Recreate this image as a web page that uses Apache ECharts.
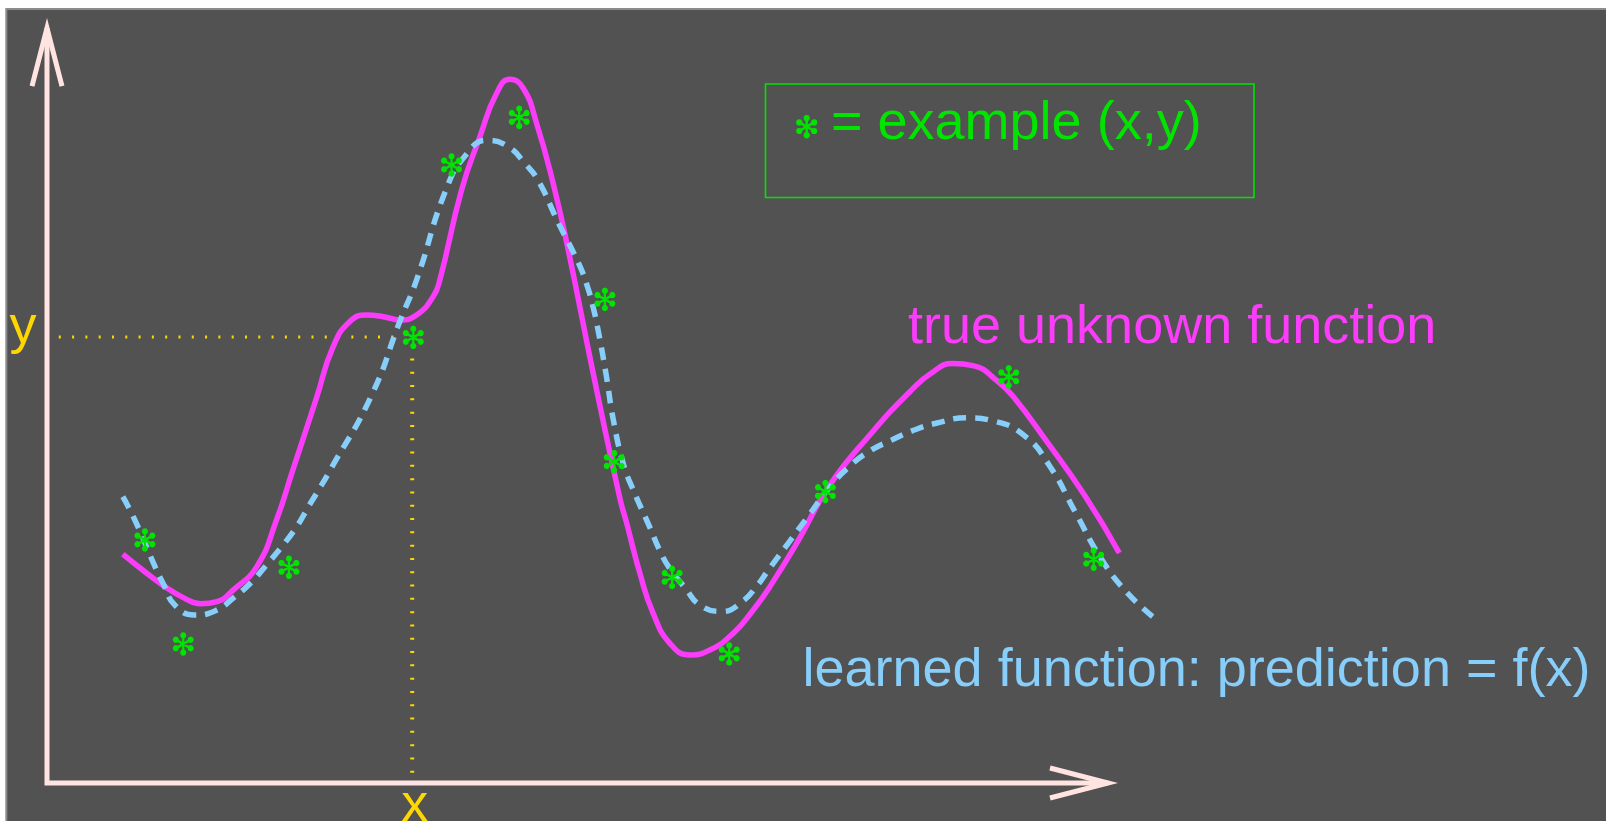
<!DOCTYPE html>
<html>
<head>
<meta charset="utf-8">
<script src="https://cdn.jsdelivr.net/npm/echarts@6/dist/echarts.min.js"></script>
<style>
  html, body { margin: 0; padding: 0; background: #fff; }
  #chart { width: 1606px; height: 821px; }
</style>
</head>
<body>
<div id="chart"></div>
<script>
// Underlying (unknown) function, sampled along x
const trueFunction = [
  [0.708, 2.992], [0.899, 2.778], [1.090, 2.577], [1.281, 2.417], [1.434, 2.343],
  [1.587, 2.370], [1.740, 2.524], [1.960, 2.832], [2.142, 3.434], [2.295, 4.090],
  [2.515, 5.027], [2.672, 5.704], [2.828, 6.032], [2.984, 6.117], [3.140, 6.096],
  [3.294, 6.053], [3.450, 6.117], [3.605, 6.357], [3.668, 6.575], [3.871, 7.752],
  [4.042, 8.448], [4.198, 9.016], [4.322, 9.199], [4.447, 9.082], [4.571, 8.624],
  [4.726, 7.839], [4.867, 6.967], [5.100, 5.355], [5.349, 3.722], [5.412, 3.400],
  [5.536, 2.741], [5.660, 2.218], [5.816, 1.826], [6.003, 1.674], [6.189, 1.739],
  [6.407, 1.956], [6.594, 2.261], [6.750, 2.567], [7.019, 3.180], [7.306, 3.889],
  [7.689, 4.559], [8.071, 5.135], [8.262, 5.362], [8.454, 5.483], [8.645, 5.456],
  [8.884, 5.242], [9.027, 5.041], [9.314, 4.505], [9.697, 3.742], [10.012, 3.006]
];

// Fitted model f(x)
const learnedFunction = [
  [0.708, 3.742], [0.822, 3.434], [0.995, 2.872], [1.090, 2.591], [1.195, 2.323],
  [1.377, 2.196], [1.578, 2.256], [1.750, 2.430], [1.913, 2.631], [2.046, 2.845],
  [2.190, 3.086], [2.333, 3.354], [2.439, 3.608], [2.544, 3.849], [2.639, 4.077],
  [3.031, 5.068], [3.294, 6.032], [3.452, 6.580], [3.730, 7.772], [3.921, 8.227],
  [4.103, 8.401], [4.303, 8.321], [4.466, 8.093], [4.590, 7.866], [4.772, 7.330],
  [4.963, 6.795], [5.040, 6.514], [5.097, 6.232], [5.145, 5.924], [5.221, 5.335],
  [5.288, 4.746], [5.384, 4.157], [5.460, 3.876], [5.633, 3.327], [5.719, 3.046],
  [5.814, 2.805], [5.958, 2.551], [6.101, 2.323], [6.302, 2.243], [6.484, 2.363],
  [6.637, 2.591], [6.732, 2.778], [6.924, 3.140], [7.115, 3.501], [7.306, 3.863],
  [7.497, 4.144], [7.689, 4.345], [7.880, 4.478], [8.071, 4.599], [8.310, 4.706],
  [8.597, 4.773], [8.836, 4.733], [9.123, 4.545], [9.362, 4.144], [9.601, 3.541],
  [9.840, 2.939], [10.079, 2.497], [10.347, 2.149]
];

// Training examples (x, y)
const examples = [
  [0.914, 3.177], [1.272, 1.817], [2.259, 2.820], [3.777, 8.079], [3.420, 5.825],
  [4.409, 8.701], [5.209, 6.322], [5.296, 4.200], [5.837, 2.688], [6.370, 1.687],
  [7.268, 3.809], [8.980, 5.309], [9.773, 2.925]
];

// The example whose coordinates are traced back to the axes
const sample = [3.41, 5.83];

// Axis extents and arrowheads (data units)
const axisEnds = [9.907, 9.869];
const xArrowHead = [[9.365, 0.196], [9.907, 0], [9.365, -0.196]];
const yArrowHead = [[-0.140, 9.111], [0, 9.869], [0.140, 9.111]];

// Text
const axisNames = ['x', 'y'];
const curveNames = ['true unknown function', 'learned function: prediction = f(x)'];
const legendText = '= example (x,y)';

const C = {
  bg: '#525252', frame: '#8c8c8c', axis: '#ffe4e1', guide: '#ffd700',
  truth: '#fb3cfb', learned: '#87cefa', example: '#00e400'
};
const FONT = '54px "Liberation Sans", Arial, Helvetica, sans-serif';

// Plot scale: origin position and pixels per unit on the 1606x821 canvas
const W = 1606, H = 821;
const ORIGIN = [47, 783];
const UNIT = [107.1, 76.5];

// Six-armed asterisk with round tips (arms as strokes, tips as filled dots)
function asteriskPath(arm, dot) {
  let d = '';
  for (const deg of [90, 30, 150]) {
    const a = deg * Math.PI / 180, c = Math.cos(a) * arm, s = Math.sin(a) * arm;
    d += 'M' + (-c).toFixed(2) + ' ' + (-s).toFixed(2) + 'L' + c.toFixed(2) + ' ' + s.toFixed(2);
  }
  for (let k = 0; k < 6; k++) {
    const a = (30 + 60 * k) * Math.PI / 180;
    const cx = Math.cos(a) * arm, cy = Math.sin(a) * arm;
    for (let j = 0; j < 12; j++) {
      const b = j * Math.PI / 6;
      d += (j ? 'L' : 'M') + (cx + Math.cos(b) * dot).toFixed(2) + ' ' + (cy + Math.sin(b) * dot).toFixed(2);
    }
    d += 'Z';
  }
  return 'path://' + d;
}
const ARM = 8.6, DOT = 1.9, STROKE = 2.4;
const starSize = [2 * (ARM * Math.cos(Math.PI / 6) + DOT), 2 * (ARM + DOT)];

// Legend asterisk drawn with graphic primitives
function legendStar(cx, cy) {
  const children = [];
  for (const deg of [90, 30, 150]) {
    const a = deg * Math.PI / 180, c = Math.cos(a) * ARM, s = Math.sin(a) * ARM;
    children.push({ type: 'line', shape: { x1: -c, y1: -s, x2: c, y2: s },
      style: { stroke: C.example, lineWidth: STROKE } });
  }
  for (let k = 0; k < 6; k++) {
    const a = (30 + 60 * k) * Math.PI / 180;
    children.push({ type: 'circle', shape: { cx: Math.cos(a) * ARM, cy: Math.sin(a) * ARM, r: DOT + STROKE / 2 },
      style: { fill: C.example } });
  }
  return { type: 'group', x: cx, y: cy, z: 50, children };
}

function label(text, x, y, color, align) {
  return {
    type: 'text', x, y, z: 50,
    style: { text, font: FONT, fill: color, align: align || 'left', verticalAlign: 'middle',
             textAlign: align || 'left', textVerticalAlign: 'middle' }
  };
}

const chart = echarts.init(document.getElementById('chart'), null, { renderer: 'canvas' });

chart.setOption({
  animation: false,
  backgroundColor: '#ffffff',
  grid: { left: 0, top: 0, right: 0, bottom: 0, show: false },
  xAxis: { type: 'value', show: false,
           min: -ORIGIN[0] / UNIT[0], max: (W - ORIGIN[0]) / UNIT[0] },
  yAxis: { type: 'value', show: false,
           min: -(H - ORIGIN[1]) / UNIT[1], max: ORIGIN[1] / UNIT[1] },
  graphic: [
    { type: 'rect', z: -10, silent: true,
      shape: { x: 6.3, y: 9, width: 1620, height: 830 },
      style: { fill: C.bg, stroke: C.frame, lineWidth: 2 } },
    label(axisNames[1], 9.5, 328.5, C.guide, 'left'),
    label(axisNames[0], 414.7, 806, C.guide, 'center'),
    label(curveNames[0], 908, 328.5, C.truth, 'left'),
    label(curveNames[1], 802.5, 671.5, C.learned, 'left'),
    { type: 'rect', z: 40, shape: { x: 765.5, y: 84, width: 488.5, height: 113.5 },
      style: { fill: 'none', stroke: C.example, lineWidth: 1.6 } },
    legendStar(806.7, 126.7),
    label(legendText, 831, 124.5, C.example, 'left')
  ],
  series: [
    { // dotted guide from the sample to the y axis
      type: 'line', clip: false, symbol: 'none', z: 1,
      data: [[0.11, sample[1]], [sample[0] - 0.13, sample[1]]],
      lineStyle: { color: C.guide, width: 3, type: [2, 11.3], cap: 'butt' }
    },
    { // dotted guide from the sample to the x axis
      type: 'line', clip: false, symbol: 'none', z: 1,
      data: [[sample[0], sample[1] - 0.28], [sample[0], 0.12]],
      lineStyle: { color: C.guide, width: 4, type: [2, 11.3], cap: 'butt' }
    },
    { // axes
      type: 'line', clip: false, symbol: 'none', z: 2,
      data: [[0, axisEnds[1]], [0, 0], [axisEnds[0], 0]],
      lineStyle: { color: C.axis, width: 5, join: 'miter', cap: 'butt' }
    },
    {
      type: 'line', clip: false, symbol: 'none', z: 2, data: xArrowHead,
      lineStyle: { color: C.axis, width: 5, join: 'miter', cap: 'butt', miterLimit: 10 }
    },
    {
      type: 'line', clip: false, symbol: 'none', z: 2, data: yArrowHead,
      lineStyle: { color: C.axis, width: 5, join: 'miter', cap: 'butt', miterLimit: 10 }
    },
    {
      name: curveNames[0], type: 'line', clip: false, symbol: 'none',
      smooth: 0.5, z: 3,
      data: trueFunction,
      lineStyle: { color: C.truth, width: 5.5, join: 'round' }
    },
    {
      name: curveNames[1], type: 'line', clip: false, symbol: 'none',
      smooth: 0.5, z: 4,
      data: learnedFunction,
      lineStyle: { color: C.learned, width: 5.5, type: [13, 9], cap: 'butt', join: 'round' }
    },
    {
      name: 'example', type: 'scatter', clip: false, z: 5,
      data: examples,
      symbol: asteriskPath(ARM, DOT),
      symbolSize: starSize,
      itemStyle: { color: C.example, borderColor: C.example, borderWidth: STROKE, opacity: 1 }
    }
  ]
});
</script>
</body>
</html>
